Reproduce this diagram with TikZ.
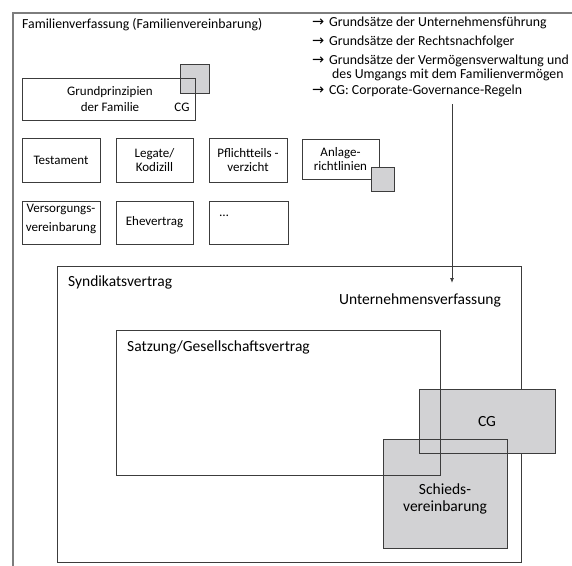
\documentclass[tikz,border=0pt]{standalone}
\usepackage{fontspec}
\setmainfont{Carlito}
\newfontfamily\arrowfont{DejaVu Sans}
\usetikzlibrary{arrows.meta}
\definecolor{boxline}{RGB}{60,60,60}
\definecolor{frameline}{RGB}{125,125,125}
\definecolor{grayfill}{RGB}{210,210,212}
\tikzset{
  boxst/.style={draw=boxline, line width=0.9pt, inner sep=0pt, align=center, font=\fontsize{13}{14.5}\selectfont},
  grayst/.style={fill=grayfill, draw=boxline, line width=0.9pt, inner sep=0pt},
  grayfillst/.style={fill=grayfill, draw=none, inner sep=0pt, outer sep=0pt},
  smalltext/.style={inner sep=0pt, align=center, font=\fontsize{13}{14.5}\selectfont},
  toptext/.style={inner sep=0pt, anchor=west, font=\fontsize{13.8}{16}\selectfont},
  arrowtext/.style={inner sep=0pt, anchor=west, font=\arrowfont\fontsize{14.5}{15}\selectfont},
  bigtext/.style={inner sep=0pt, font=\fontsize{15.5}{16.5}\selectfont},
  framest/.style={draw=frameline, line width=1.3pt},
  edgest/.style={draw=boxline, line width=0.9pt},
}
\begin{document}
\begin{tikzpicture}[x=1pt,y=-1pt]
\useasboundingbox (0,0) rectangle (572,565);
% outer frame
\coordinate (fbl) at (13,566);
\coordinate (ftl) at (13,13);
\coordinate (ftr) at (573,13);
\draw[framest] (fbl) -- (ftl) -- (ftr);
\node[toptext] (title) at (22,25) {Familienverfassung (Familienvereinbarung)};
% list
\node[arrowtext] (a1) at (312,23) {→};
\node[toptext] (t1) at (329,23) {Grundsätze der Unternehmensführung};
\node[arrowtext] (a2) at (312,42) {→};
\node[toptext] (t2) at (329,42) {Grundsätze der Rechtsnachfolger};
\node[arrowtext] (a3) at (312,61) {→};
\node[toptext] (t3) at (329,61) {Grundsätze der Vermögensverwaltung und};
\node[toptext] (t3b) at (332,75) {des Umgangs mit dem Familienvermögen};
\node[arrowtext] (a4) at (312,91) {→};
\node[toptext] (t4) at (329,91) {CG: Corporate-Governance-Regeln};
% Grundprinzipien
\node[grayst, minimum width=29, minimum height=29] (gpsq) at (194.5,78.5) {};
\node[boxst, minimum width=173, minimum height=42] (gp) at (108.5,99) {};
\node[smalltext, font=\fontsize{13}{16}\selectfont] (gptxt) at (110,99) {Grundprinzipien\\der Familie};
\node[smalltext] (gpcg) at (182,107) {CG};
% row 1
\node[boxst, minimum width=78, minimum height=44] (test) at (61,160) {Testament};
\node[boxst, minimum width=77, minimum height=44] (leg) at (154.5,160) {Legate/\\Kodizill};
\node[boxst, minimum width=78, minimum height=44] (pfl) at (248,160) {Pflichtteils -\\verzicht};
\node[boxst, minimum width=77, minimum height=40] (anl) at (340.5,159) {Anlage-\\richtlinien};
\node[grayst, minimum width=23, minimum height=24] (anlsq) at (382.5,179) {};
% row 2
\node[boxst, minimum width=78, minimum height=43] (vers) at (61,222.5) {};
\node[smalltext, font=\fontsize{13}{19}\selectfont] (verstxt) at (61,218.5) {Versorgungs-\\vereinbarung};
\node[boxst, minimum width=77, minimum height=43] (ehe) at (154.5,222.5) {Ehevertrag};
\node[boxst, minimum width=79, minimum height=43] (etc) at (248.5,222.5) {};
\node[smalltext] (etctxt) at (224,216) {…};
% Syndikatsvertrag
\node[boxst, minimum width=464, minimum height=296] (synd) at (289,414) {};
\node[bigtext, anchor=west] (syndtxt) at (68,282) {Syndikatsvertrag};
\node[bigtext, anchor=east] (uvtxt) at (501,300) {Unternehmensverfassung};
% arrow
\coordinate (arrtop) at (452,104);
\coordinate (arrend) at (452,283);
\draw[edgest, -{Latex[length=5pt,width=4pt]}] (arrtop) -- (arrend);
% gray boxes
\node[grayfillst, minimum width=136, minimum height=64] (cg) at (487,421) {};
\node[grayfillst, minimum width=124, minimum height=109] (sv) at (445,493.5) {};
\draw[edgest] (cg.north west) rectangle (cg.south east);
\draw[edgest] (sv.north west) rectangle (sv.south east);
% Satzung
\node[boxst, minimum width=324, minimum height=145] (satz) at (278,402.5) {};
\node[bigtext, anchor=west] (satztxt) at (127,347) {Satzung/Gesellschaftsvertrag};
\node[bigtext] (cgtxt) at (487,422) {CG};
\node[bigtext, align=center] (svtxt) at (445,499) {Schieds-\\vereinbarung};
\end{tikzpicture}
\end{document}
